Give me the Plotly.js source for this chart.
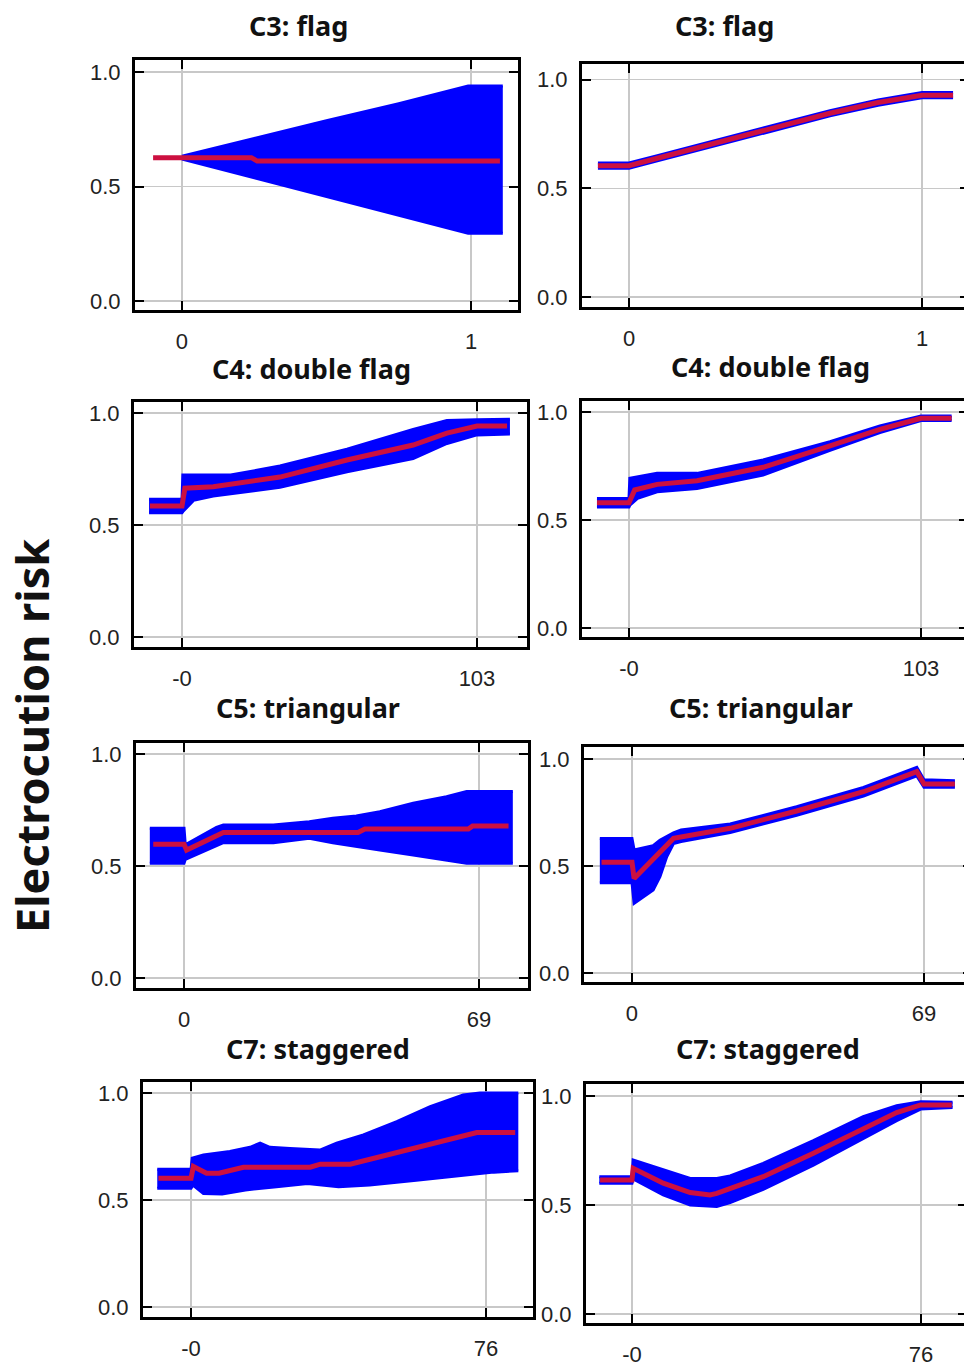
<!DOCTYPE html>
<html><head><meta charset="utf-8">
<script src="https://cdn.plot.ly/plotly-3.0.1.min.js"></script>
<style>html,body{margin:0;padding:0;overflow:hidden;background:#fff}</style>
</head><body>
<div id="chart"></div>
<script>
// ---------- Data ----------
const panelTitles = ["C3: flag","C3: flag","C4: double flag","C4: double flag","C5: triangular","C5: triangular","C7: staggered","C7: staggered"];
const yAxisTitle = "Electrocution risk";
const yTickVals = [0, 0.5, 1];
const yTickText = ["0.0", "0.5", "1.0"];
const xTickVals = [[0,1],[0,1],[0,103],[0,103],[0,69],[0,69],[0,76],[0,76]];
const xTickText = [["0","1"],["0","1"],["-0","103"],["-0","103"],["0","69"],["0","69"],["-0","76"],["-0","76"]];

// C3 left
const c3a_lineX = [-0.10, 0, 0.24, 0.26, 0.5, 0.75, 1.0, 1.10];
const c3a_lineY = [0.626, 0.626, 0.626, 0.611, 0.611, 0.611, 0.611, 0.611];
const c3a_hiX = [0, 0.25, 0.5, 0.75, 0.99, 1.11];
const c3a_hi  = [0.632, 0.71, 0.787, 0.862, 0.939, 0.939];
const c3a_loX = [0, 0.25, 0.5, 0.75, 0.99, 1.11];
const c3a_lo  = [0.62, 0.538, 0.457, 0.377, 0.296, 0.296];
// C3 right
const c3b_lineX = [-0.106, 0, 0.1, 0.2, 0.345, 0.5, 0.686, 0.85, 1.0, 1.106];
const c3b_lineY = [0.605, 0.605, 0.64, 0.675, 0.729, 0.782, 0.846, 0.895, 0.929, 0.929];
const c3b_hiX = [-0.106, 0, 0.1, 0.2, 0.345, 0.5, 0.686, 0.85, 1.0, 1.106];
const c3b_hi  = [0.617, 0.617, 0.652, 0.687, 0.741, 0.794, 0.858, 0.907, 0.941, 0.941];
const c3b_loX = [-0.106, 0, 0.1, 0.2, 0.345, 0.5, 0.686, 0.85, 1.0, 1.106];
const c3b_lo  = [0.593, 0.593, 0.628, 0.663, 0.717, 0.770, 0.834, 0.883, 0.917, 0.917];
// C4 left
const c4a_lineX = [-11.2, 0, 1, 10.9, 34.2, 57.6, 80.7, 92.5, 103, 113.5];
const c4a_lineY = [0.585, 0.585, 0.664, 0.671, 0.714, 0.790, 0.857, 0.91, 0.942, 0.942];
const c4a_hiX = [-11.5, 0, 0.3, 4, 17, 34.2, 57.6, 80.7, 92.5, 103, 114.5];
const c4a_hi  = [0.615, 0.615, 0.723, 0.723, 0.723, 0.763, 0.838, 0.927, 0.966, 0.970, 0.972];
const c4a_loX = [-11.5, 0, 0.3, 4, 10.9, 34.2, 57.6, 80.7, 92.5, 103, 114.5];
const c4a_lo  = [0.555, 0.555, 0.56, 0.61, 0.629, 0.668, 0.738, 0.797, 0.864, 0.902, 0.906];
// C4 right
const c4b_lineX = [-11.3, 0, 2, 9.9, 24, 47.3, 70.9, 88.5, 103, 113.8];
const c4b_lineY = [0.58, 0.58, 0.639, 0.665, 0.682, 0.744, 0.843, 0.92, 0.971, 0.971];
const c4b_hiX = [-11.3, 0, 0.3, 3, 9.9, 24, 47.3, 70.9, 88.5, 103, 113.8];
const c4b_hi  = [0.60, 0.60, 0.693, 0.70, 0.716, 0.716, 0.778, 0.863, 0.935, 0.981, 0.981];
const c4b_loX = [-11.3, 0, 0.3, 3, 9.9, 24, 47.3, 70.9, 88.5, 103, 113.8];
const c4b_lo  = [0.56, 0.56, 0.569, 0.60, 0.631, 0.646, 0.708, 0.823, 0.905, 0.961, 0.961];
// C5 left
const c5a_lineX = [-7.2, 0, 0.6, 9.2, 40.7, 42.3, 66.5, 67.5, 75.9];
const c5a_lineY = [0.597, 0.597, 0.571, 0.65, 0.65, 0.665, 0.665, 0.679, 0.679];
const c5a_hiX = [-8, 0, 0.3, 7.6, 9.2, 20.9, 29.3, 34.8, 40.3, 45.8, 53.6, 61.4, 66.1, 76.9];
const c5a_hi  = [0.668, 0.668, 0.594, 0.672, 0.683, 0.683, 0.698, 0.713, 0.723, 0.742, 0.78, 0.809, 0.832, 0.832];
const c5a_loX = [-8, 0, 0.3, 7.6, 9.2, 20.9, 29.3, 34.8, 40.3, 45.8, 53.6, 61.4, 66.1, 76.9];
const c5a_lo  = [0.512, 0.512, 0.53, 0.59, 0.604, 0.604, 0.624, 0.604, 0.586, 0.571, 0.549, 0.527, 0.512, 0.512];
// C5 right
const c5b_lineX = [-7.2, 0, 0.5, 9.8, 23.2, 38.9, 54.7, 67.3, 69, 76.3];
const c5b_lineY = [0.517, 0.517, 0.442, 0.629, 0.676, 0.757, 0.847, 0.941, 0.883, 0.883];
const c5b_hiX = [-7.6, 0, 0.5, 5.0, 6.6, 8.2, 9.8, 11.6, 23.2, 38.9, 54.7, 67.3, 69, 76.3];
const c5b_hi  = [0.629, 0.629, 0.575, 0.595, 0.62, 0.637, 0.655, 0.668, 0.696, 0.777, 0.867, 0.961, 0.903, 0.898];
const c5b_loX = [-7.6, 0, 0.5, 5.0, 6.6, 8.2, 9.8, 11.6, 23.2, 38.9, 54.7, 67.3, 69, 76.3];
const c5b_lo  = [0.422, 0.422, 0.326, 0.388, 0.45, 0.543, 0.605, 0.614, 0.656, 0.737, 0.827, 0.921, 0.868, 0.868];
// C7 left
const c7a_lineX = [-8.4, 0, 0.6, 4, 7.2, 13.5, 30.7, 33.3, 41, 48.7, 57.3, 65.9, 73.6, 83.5];
const c7a_lineY = [0.601, 0.601, 0.656, 0.625, 0.625, 0.653, 0.653, 0.667, 0.667, 0.702, 0.741, 0.78, 0.815, 0.815];
const c7a_hiX = [-8.7, 0, 0.3, 3.2, 10.0, 15.2, 17.8, 20.3, 25.5, 33.2, 37.5, 44.4, 53.0, 61.6, 70.1, 74.4, 84.3];
const c7a_hi  = [0.643, 0.643, 0.695, 0.71, 0.726, 0.746, 0.765, 0.746, 0.74, 0.733, 0.765, 0.804, 0.866, 0.936, 0.991, 1.0, 1.0];
const c7a_loX = [-8.7, 0, 0.5, 3.2, 8, 14, 22, 30, 38, 46, 58, 68, 78, 84.3];
const c7a_lo  = [0.555, 0.555, 0.57, 0.53, 0.528, 0.547, 0.562, 0.577, 0.562, 0.57, 0.592, 0.612, 0.630, 0.637];
// C7 right
const c7b_lineX = [-8.4, 0, 0.3, 8.2, 15.3, 20.5, 22.3, 34.5, 47.7, 60.8, 69.6, 75.9, 84.1];
const c7b_lineY = [0.615, 0.615, 0.668, 0.6, 0.557, 0.546, 0.553, 0.63, 0.737, 0.852, 0.924, 0.959, 0.959];
const c7b_hiX = [-8.6, 0, 0.3, 8.2, 15.3, 22.3, 25.8, 34.5, 47.7, 60.8, 69.6, 75.9, 84.3];
const c7b_hi  = [0.63, 0.63, 0.706, 0.661, 0.622, 0.622, 0.633, 0.691, 0.795, 0.905, 0.955, 0.974, 0.971];
const c7b_loX = [-8.6, 0, 0.3, 8.2, 15.3, 22.3, 25.8, 34.5, 47.7, 60.8, 69.6, 75.9, 84.3];
const c7b_lo  = [0.60, 0.60, 0.62, 0.546, 0.50, 0.493, 0.511, 0.572, 0.683, 0.806, 0.887, 0.94, 0.947];

// ---------- Layout geometry (pixels) ----------
const W = 975, H = 1367;
const boxes = [ // left, right, top, bottom, xRange, yRange
  {l:135, r:518, t:60,  b:310,  xr:[-0.1626, 1.1626], yr:[-0.0393, 1.0524]},
  {l:582, r:969, t:64,  b:307,  xr:[-0.1604, 1.1604], yr:[-0.0452, 1.0724]},
  {l:134, r:527, t:402, b:647,  xr:[-16.76, 120.46],  yr:[-0.0446, 1.049]},
  {l:582, r:968, t:401, b:637,  xr:[-16.58, 119.58],  yr:[-0.0417, 1.051]},
  {l:136, r:528, t:743, b:988,  xr:[-11.23, 80.45],   yr:[-0.0446, 1.049]},
  {l:584, r:972, t:747, b:982,  xr:[-11.34, 80.34],   yr:[-0.042, 1.056]},
  {l:143, r:533, t:1082,b:1317, xr:[-12.37, 88.08],   yr:[-0.0467, 1.051]},
  {l:586, r:967, t:1084,b:1323, xr:[-12.1, 88.1],     yr:[-0.0413, 1.055]}
];
const titlePos = [[298,25],[724,25],[311,368],[770,366],[308,708],[761,708],[318,1048],[768,1048]];

const series = [
  [c3a_lineX,c3a_lineY,c3a_hiX,c3a_hi,c3a_loX,c3a_lo],
  [c3b_lineX,c3b_lineY,c3b_hiX,c3b_hi,c3b_loX,c3b_lo],
  [c4a_lineX,c4a_lineY,c4a_hiX,c4a_hi,c4a_loX,c4a_lo],
  [c4b_lineX,c4b_lineY,c4b_hiX,c4b_hi,c4b_loX,c4b_lo],
  [c5a_lineX,c5a_lineY,c5a_hiX,c5a_hi,c5a_loX,c5a_lo],
  [c5b_lineX,c5b_lineY,c5b_hiX,c5b_hi,c5b_loX,c5b_lo],
  [c7a_lineX,c7a_lineY,c7a_hiX,c7a_hi,c7a_loX,c7a_lo],
  [c7b_lineX,c7b_lineY,c7b_hiX,c7b_hi,c7b_loX,c7b_lo]
];

const BLUE = '#0000ff', RED = '#cc1040';
const tickFont = {family: 'Liberation Sans, Arial, sans-serif', size: 22, color: '#222'};
const traces = [];
const layout = {
  width: W, height: H, margin: {l:0, r:0, t:0, b:0},
  paper_bgcolor: '#fff', plot_bgcolor: '#fff', showlegend: false,
  annotations: []
};

series.forEach((s, i) => {
  const n = i === 0 ? '' : String(i + 1);
  const xr = 'x' + n, yr = 'y' + n;
  traces.push({x: s[4], y: s[5], xaxis: xr, yaxis: yr, type: 'scatter', mode: 'lines',
    line: {color: BLUE, width: 3}, hoverinfo: 'skip'});
  traces.push({x: s[2], y: s[3], xaxis: xr, yaxis: yr, type: 'scatter', mode: 'lines',
    fill: 'tonexty', fillcolor: BLUE, line: {color: BLUE, width: 3}, hoverinfo: 'skip'});
  traces.push({x: s[0], y: s[1], xaxis: xr, yaxis: yr, type: 'scatter', mode: 'lines',
    line: {color: RED, width: 5}});
  const bx = boxes[i];
  const common = {showgrid: true, gridcolor: '#c8c8c8', gridwidth: 1.5, zeroline: false,
    showline: true, linecolor: '#000', linewidth: 3, mirror: 'ticks',
    ticks: 'inside', ticklen: 9, tickwidth: 2, tickcolor: '#000', tickfont: tickFont,
    fixedrange: true};
  layout['xaxis' + n] = Object.assign({}, common, {
    domain: [bx.l / W, bx.r / W], range: bx.xr, anchor: yr,
    tickmode: 'array', tickvals: xTickVals[i], ticktext: xTickText[i], ticklabelstandoff: 10});
  layout['yaxis' + n] = Object.assign({}, common, {
    domain: [1 - bx.b / H, 1 - bx.t / H], range: bx.yr, anchor: xr,
    tickmode: 'array', tickvals: yTickVals, ticktext: yTickText, ticklabelstandoff: 7});
  layout.annotations.push({text: panelTitles[i], xref: 'paper', yref: 'paper',
    x: titlePos[i][0] / W, y: 1 - titlePos[i][1] / H, xanchor: 'center', yanchor: 'middle',
    showarrow: false, font: {family: 'Noto Sans, Open Sans, sans-serif', size: 27, weight: 700, color: '#111'}});
});
layout.annotations.push({text: yAxisTitle, xref: 'paper', yref: 'paper', x: 31 / W, y: 1 - 736 / H,
  xanchor: 'center', yanchor: 'middle', textangle: -90, showarrow: false,
  font: {family: 'Noto Sans, Open Sans, sans-serif', size: 45, weight: 700, color: '#111'}});

Plotly.newPlot('chart', traces, layout, {staticPlot: true, displayModeBar: false});
</script>
</body></html>
